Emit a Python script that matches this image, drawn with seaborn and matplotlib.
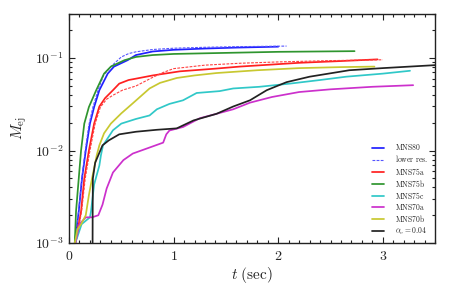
import numpy as np
import pandas as pd
import matplotlib
matplotlib.use("Agg")
import matplotlib.pyplot as plt
import seaborn as sns
from matplotlib.ticker import FuncFormatter, MultipleLocator, LogLocator, NullFormatter

# ---- data ----
t_mns80 = [0.055, 0.093, 0.124, 0.16, 0.2, 0.24, 0.29, 0.37, 0.43, 0.56, 0.64, 0.8, 1.0, 1.3, 1.6, 2.0]
m_mns80 = [0.001, 0.0022, 0.005, 0.01, 0.0196, 0.0296, 0.045, 0.068, 0.081, 0.095, 0.108, 0.118, 0.123, 0.127, 0.13, 0.133]

t_mns80_lr = [0.055, 0.093, 0.124, 0.155, 0.19, 0.23, 0.28, 0.33, 0.40, 0.5, 0.57, 0.64, 0.8, 1.0, 1.3, 1.6, 2.08]
m_mns80_lr = [0.001, 0.0023, 0.0052, 0.01, 0.019, 0.03, 0.046, 0.065, 0.081, 0.103, 0.112, 0.117, 0.124, 0.128, 0.131, 0.133, 0.135]

t_mns75a = [0.06, 0.115, 0.146, 0.19, 0.24, 0.29, 0.345, 0.42, 0.48, 0.57, 0.64, 0.8, 1.06, 1.4, 1.63, 2.2, 2.6, 2.95]
m_mns75a = [0.001, 0.0022, 0.005, 0.01, 0.0196, 0.03, 0.037, 0.045, 0.053, 0.058, 0.060, 0.065, 0.072, 0.077, 0.081, 0.089, 0.093, 0.097]

t_mns75a_lr = [0.065, 0.12, 0.155, 0.2, 0.25, 0.3, 0.36, 0.42, 0.51, 0.64, 0.8, 0.9, 1.0, 1.3, 1.63, 2.0, 2.5, 3.0]
m_mns75a_lr = [0.001, 0.0022, 0.005, 0.01, 0.0196, 0.0296, 0.036, 0.0397, 0.045, 0.05, 0.062, 0.07, 0.077, 0.084, 0.088, 0.091, 0.094, 0.096]

t_mns75b = [0.055, 0.067, 0.093, 0.115, 0.146, 0.19, 0.26, 0.335, 0.40, 0.53, 0.64, 0.8, 1.0, 1.5, 2.0, 2.73]
m_mns75b = [0.001, 0.0022, 0.005, 0.01, 0.0196, 0.0296, 0.045, 0.068, 0.081, 0.095, 0.103, 0.108, 0.111, 0.114, 0.117, 0.119]

t_mns75c = [0.06, 0.12, 0.2, 0.21, 0.24, 0.29, 0.305, 0.325, 0.42, 0.5, 0.64, 0.77, 0.84, 0.96, 1.09, 1.22, 1.44, 1.57, 1.82, 2.11, 2.4, 2.65, 3.0, 3.26]
m_mns75c = [0.001, 0.0016, 0.0019, 0.0022, 0.0043, 0.0069, 0.0089, 0.0114, 0.0166, 0.0196, 0.022, 0.024, 0.028, 0.032, 0.035, 0.042, 0.044, 0.047, 0.049, 0.053, 0.058, 0.063, 0.068, 0.073]

t_mns70a = [0.06, 0.1, 0.16, 0.22, 0.28, 0.32, 0.36, 0.42, 0.52, 0.61, 0.75, 0.9, 0.93, 0.96, 1.09, 1.25, 1.41, 1.57, 1.73, 1.94, 2.2, 2.5, 2.9, 3.29]
m_mns70a = [0.001, 0.0016, 0.0019, 0.0019, 0.002, 0.0026, 0.0039, 0.0058, 0.0079, 0.0093, 0.0106, 0.0122, 0.015, 0.0165, 0.018, 0.0224, 0.025, 0.028, 0.033, 0.038, 0.043, 0.046, 0.049, 0.051]

t_mns70b = [0.055, 0.08, 0.115, 0.16, 0.19, 0.22, 0.265, 0.29, 0.335, 0.40, 0.5, 0.61, 0.7, 0.77, 0.87, 1.03, 1.2, 1.41, 1.8, 2.2, 2.6, 2.92]
m_mns70b = [0.001, 0.0014, 0.0016, 0.002, 0.0033, 0.005, 0.0089, 0.0114, 0.0154, 0.0196, 0.0253, 0.0325, 0.04, 0.047, 0.054, 0.061, 0.065, 0.069, 0.074, 0.078, 0.08, 0.081]

t_alpha = [0.225, 0.226, 0.228, 0.25, 0.32, 0.38, 0.48, 0.64, 0.84, 1.03, 1.19, 1.41, 1.57, 1.73, 1.89, 2.08, 2.3, 2.68, 3.0, 3.5]
m_alpha = [0.0008, 0.002, 0.005, 0.0074, 0.0114, 0.0129, 0.015, 0.016, 0.0168, 0.0174, 0.0212, 0.025, 0.030, 0.035, 0.045, 0.055, 0.063, 0.074, 0.078, 0.084]

series = [
    (t_mns80, m_mns80, r'$\mathrm{MNS80}$', '#2020ff', '-', 1.25),
    (t_mns80_lr, m_mns80_lr, r'$\mathrm{lower\ res.}$', '#5555ff', (0, (2.5, 1.2)), 0.8),
    (t_mns75a, m_mns75a, r'$\mathrm{MNS75a}$', '#ff2020', '-', 1.25),
    (t_mns75a_lr, m_mns75a_lr, None, '#ff4040', (0, (2.5, 1.2)), 0.8),
    (t_mns75b, m_mns75b, r'$\mathrm{MNS75b}$', '#2f952f', '-', 1.25),
    (t_mns75c, m_mns75c, r'$\mathrm{MNS75c}$', '#30c8c8', '-', 1.25),
    (t_mns70a, m_mns70a, r'$\mathrm{MNS70a}$', '#cc30cc', '-', 1.25),
    (t_mns70b, m_mns70b, r'$\mathrm{MNS70b}$', '#c8c830', '-', 1.25),
    (t_alpha, m_alpha, r'$\alpha_v = 0.04$', '#222222', '-', 1.25),
]

sns.set_style("ticks")
plt.rcParams['font.family'] = ['DejaVu Serif']
plt.rcParams['mathtext.fontset'] = 'cm'

fig = plt.figure(figsize=(4.58, 2.86), dpi=100)
ax = fig.add_axes([0.1507, 0.150, 0.7993, 0.801])

for t, m, lab, col, ls, lw in series:
    df = pd.DataFrame({'t': t, 'M': m})
    sns.lineplot(data=df, x='t', y='M', ax=ax, color=col, linestyle=ls, linewidth=lw,
                 label=lab, estimator=None, sort=False)

ax.set_yscale('log')
ax.set_xlim(0, 3.5)
ax.set_ylim(1e-3, 0.3)

ax.xaxis.set_major_locator(MultipleLocator(1))
ax.xaxis.set_minor_locator(MultipleLocator(0.1))
ax.xaxis.set_major_formatter(FuncFormatter(lambda v, p: r'$%d$' % round(v)))
ax.yaxis.set_major_locator(LogLocator(base=10, numticks=10))
ax.yaxis.set_minor_locator(LogLocator(base=10, subs=np.arange(2, 10), numticks=20))
ax.yaxis.set_minor_formatter(NullFormatter())
ax.yaxis.set_major_formatter(FuncFormatter(lambda v, p: r'$10^{%d}$' % round(np.log10(v))))

ax.tick_params(which='both', direction='in', top=True, right=True, width=0.8, color='#222222')
ax.tick_params(which='major', length=4, labelsize=10, pad=4)
ax.tick_params(which='minor', length=2)
for s in ax.spines.values():
    s.set_linewidth(1.0)
    s.set_color('#222222')

ax.set_xlabel(r'$t\ \mathrm{(sec)}$', fontsize=11, labelpad=2)
ax.set_ylabel(r'$M_{\rm ej}$', fontsize=11, labelpad=4)

leg = ax.legend(loc='lower right', bbox_to_anchor=(0.995, 0.005), frameon=False, fontsize=5.5,
                handlelength=1.45, handletextpad=1.5, labelspacing=0.15, borderaxespad=0.3)

fig.savefig('out.png', dpi=100)
